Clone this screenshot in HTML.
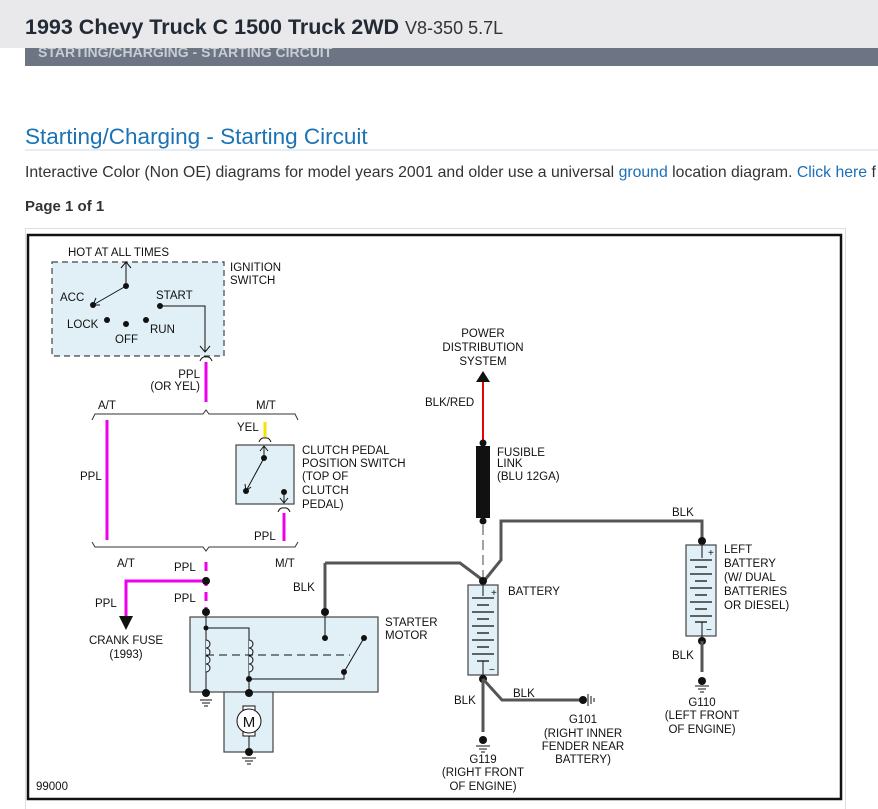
<!DOCTYPE html>
<html><head><meta charset="utf-8"><style>
html,body{margin:0;padding:0;background:#fff;width:878px;height:809px;overflow:hidden;font-family:"Liberation Sans",sans-serif}
svg text{font-family:"Liberation Sans",sans-serif}
</style></head><body>
<svg width="878" height="809" viewBox="0 0 878 809" xmlns="http://www.w3.org/2000/svg">
<rect x="0" y="0" width="878" height="48" fill="#e9e9eb"/>
<rect x="25" y="48" width="853" height="18" fill="#6d7584"/>
<text x="38" y="57" font-size="14" fill="#c8ccd4" font-weight="bold">STARTING/CHARGING - STARTING CIRCUIT</text>
<rect x="0" y="0" width="878" height="48" fill="#e9e9eb"/>
<text x="25" y="34" font-size="21.5" font-weight="bold" fill="#222a35">1993 Chevy Truck C 1500 Truck 2WD <tspan font-weight="normal" font-size="18" fill="#333">V8-350 5.7L</tspan></text>
<text x="25" y="144" font-size="22.5" fill="#1a73b5">Starting/Charging - Starting Circuit</text>
<line x1="25" y1="150" x2="878" y2="150" stroke="#cfdbe6" stroke-width="1"/>
<text x="25" y="177" font-size="15.8" fill="#333">Interactive Color (Non OE) diagrams for model years 2001 and older use a universal <tspan fill="#1a6fb5">ground</tspan> location diagram. <tspan fill="#1a6fb5">Click here</tspan> f</text>
<text x="25" y="211" font-size="15" font-weight="bold" fill="#333">Page 1 of 1</text>
<rect x="25.5" y="228.5" width="820" height="585" fill="none" stroke="#ddd"/>
<rect x="28" y="235" width="813" height="564" fill="#fff" stroke="#111" stroke-width="2.5"/>

<g font-size="11.5" fill="#111">
<rect x="52" y="262" width="172" height="94" fill="#e0f0f6" stroke="#444" stroke-dasharray="6,4" stroke-width="1.2"/>
<text x="68" y="256">HOT AT ALL TIMES</text>
<text x="230" y="271">IGNITION</text><text x="230" y="284">SWITCH</text>
<line x1="126" y1="286" x2="126" y2="262" stroke="#111"/>
<polyline points="121,268 126,262 131,268" fill="none" stroke="#111"/>
<line x1="126" y1="286" x2="93" y2="305" stroke="#111"/>
<polyline points="96,298 93,305 100,305" fill="none" stroke="#111"/>
<circle cx="126" cy="286" r="3"/><circle cx="93" cy="305" r="3"/>
<circle cx="107" cy="320" r="3"/><circle cx="126" cy="324" r="3"/><circle cx="146" cy="320" r="3"/><circle cx="160" cy="306" r="3"/>
<text x="60" y="301">ACC</text><text x="67" y="328">LOCK</text><text x="115" y="343">OFF</text><text x="150" y="333">RUN</text><text x="156" y="299">START</text>
<polyline points="160,306 205,306 205,352" fill="none" stroke="#111"/>
<polyline points="200,346 205,352 210,346" fill="none" stroke="#111"/>
<path d="M200,361 Q202,356 206,357 Q210,356 212,361" fill="none" stroke="#111"/>
<line x1="206" y1="362" x2="206" y2="402" stroke="#ee00ee" stroke-width="3"/>
<text x="200" y="378" text-anchor="end">PPL</text><text x="200" y="390" text-anchor="end">(OR YEL)</text>
<path d="M92,420 L95,414 L203,414 L206,410 L209,414 L295,414 L298,420" fill="none" stroke="#333"/>
<text x="98" y="409">A/T</text><text x="256" y="409">M/T</text>
<line x1="107" y1="420" x2="107" y2="540" stroke="#ee00ee" stroke-width="3"/>
<text x="80" y="480">PPL</text>
<line x1="265" y1="422" x2="265" y2="437" stroke="#f5e400" stroke-width="3"/>
<text x="237" y="431">YEL</text>
<path d="M259,442 Q261,437 265,438 Q269,437 271,442" fill="none" stroke="#111"/>
<rect x="236" y="445" width="58" height="59" fill="#e0f0f6" stroke="#444" stroke-width="1.2"/>
<line x1="264" y1="458" x2="264" y2="446" stroke="#111"/><polyline points="260,451 264,446 268,451" fill="none" stroke="#111"/>
<line x1="264" y1="458" x2="246" y2="491" stroke="#111"/><polyline points="245,484 246,491 251,487" fill="none" stroke="#111"/>
<circle cx="264" cy="458" r="3"/><circle cx="246" cy="491" r="3"/><circle cx="284" cy="492" r="3"/>
<line x1="284" y1="492" x2="284" y2="503" stroke="#111"/><polyline points="280,498 284,503 288,498" fill="none" stroke="#111"/>
<path d="M278,512 Q280,507 284,508 Q288,507 290,512" fill="none" stroke="#111"/>
<line x1="284" y1="513" x2="284" y2="541" stroke="#ee00ee" stroke-width="3"/>
<text x="254" y="540">PPL</text>
<text x="302" y="454">CLUTCH PEDAL</text><text x="302" y="467">POSITION SWITCH</text><text x="302" y="480">(TOP OF</text><text x="302" y="494">CLUTCH</text><text x="302" y="508">PEDAL)</text>
<path d="M92,542 L95,547 L203,547 L206,551 L209,547 L295,547 L298,542" fill="none" stroke="#333"/>
<text x="117" y="567">A/T</text><text x="275" y="567">M/T</text>
<text x="174" y="571">PPL</text><text x="174" y="602">PPL</text>
<line x1="206" y1="562" x2="206" y2="610" stroke="#ee00ee" stroke-width="3" stroke-dasharray="9,6"/>
<polyline points="206,581 126,581 126,616" fill="none" stroke="#ee00ee" stroke-width="3"/>
<polygon points="119,616 133,616 126,630" fill="#111"/>
<circle cx="206" cy="581" r="4"/>
<text x="95" y="607">PPL</text>
<text x="126" y="644" text-anchor="middle">CRANK FUSE</text><text x="126" y="658" text-anchor="middle">(1993)</text>
<rect x="190" y="617" width="188" height="75" fill="#e0f0f6" stroke="#444" stroke-width="1.2"/>
<rect x="224" y="692" width="49" height="60" fill="#e0f0f6" stroke="#444" stroke-width="1.2"/>
<circle cx="206" cy="612" r="4"/>
<line x1="206" y1="612" x2="206" y2="696" stroke="#111"/>
<polyline points="206,628 249,628 249,692" fill="none" stroke="#111"/>
<path d="M206,640 a4,4 0 0 1 0,8 a4,4 0 0 1 0,8 a4,4 0 0 1 0,8 a4,4 0 0 1 0,8" fill="#e0f0f6" stroke="#111"/>
<path d="M249,640 a4,4 0 0 1 0,8 a4,4 0 0 1 0,8 a4,4 0 0 1 0,8 a4,4 0 0 1 0,8" fill="#e0f0f6" stroke="#111"/>
<line x1="206" y1="655" x2="350" y2="655" stroke="#111" stroke-dasharray="8,5"/>
<circle cx="206" cy="628" r="2.5"/>
<polyline points="249,679 344,679 344,672" fill="none" stroke="#111"/>
<line x1="344" y1="672" x2="364" y2="638" stroke="#111"/>
<circle cx="249" cy="679" r="3"/><circle cx="344" cy="672" r="3"/><circle cx="364" cy="638" r="3"/>
<polyline points="325,563 460,563 484,581" fill="none" stroke="#555" stroke-width="3"/>
<line x1="325" y1="563" x2="325" y2="612" stroke="#555" stroke-width="3"/>
<circle cx="325" cy="612" r="4"/><line x1="325" y1="612" x2="325" y2="638" stroke="#111"/><circle cx="325" cy="638" r="3"/>
<text x="293" y="591">BLK</text>
<text x="385" y="626">STARTER</text><text x="385" y="639">MOTOR</text>
<circle cx="206" cy="693" r="4"/><circle cx="249" cy="693" r="4"/>
<line x1="200" y1="700" x2="212" y2="700" stroke="#111"/><line x1="202" y1="703" x2="210" y2="703" stroke="#111"/><line x1="204" y1="706" x2="208" y2="706" stroke="#111"/>
<rect x="243" y="706" width="12" height="30" fill="#fff" stroke="#111"/>
<circle cx="249" cy="721" r="12" fill="#fff" stroke="#111"/>
<text x="249" y="727" text-anchor="middle" font-size="15">M</text>
<line x1="249" y1="736" x2="249" y2="752" stroke="#111"/>
<circle cx="249" cy="752" r="4"/>
<line x1="242" y1="758" x2="256" y2="758" stroke="#111"/><line x1="245" y1="761" x2="253" y2="761" stroke="#111"/><line x1="247" y1="764" x2="251" y2="764" stroke="#111"/>
<text x="483" y="337" text-anchor="middle">POWER</text><text x="483" y="351" text-anchor="middle">DISTRIBUTION</text><text x="483" y="365" text-anchor="middle">SYSTEM</text>
<polygon points="476,382 490,382 483,371" fill="#111"/>
<line x1="483" y1="382" x2="483" y2="442" stroke="#e00" stroke-width="2"/>
<text x="425" y="406">BLK/RED</text>
<circle cx="483" cy="443" r="3.5"/>
<rect x="476" y="446" width="14" height="72" fill="#111"/>
<circle cx="483" cy="521" r="3.5"/>
<line x1="483" y1="525" x2="483" y2="578" stroke="#444" stroke-dasharray="10,5"/>
<text x="497" y="456">FUSIBLE</text><text x="497" y="467">LINK</text><text x="497" y="480">(BLU 12GA)</text>
<polyline points="484,581 501,560 501,521 702,521 702,541" fill="none" stroke="#555" stroke-width="3"/>
<text x="672" y="516">BLK</text>
<circle cx="483" cy="581" r="4"/>
<rect x="468" y="585" width="30" height="90" fill="#e0f0f6" stroke="#444" stroke-width="1.2"/>
<line x1="483" y1="581" x2="483" y2="596" stroke="#111"/>
<text x="491" y="596" font-size="10">+</text>
<g stroke="#111" stroke-width="1.3">
<line x1="472" y1="598" x2="494" y2="598"/><line x1="477" y1="605" x2="489" y2="605"/><line x1="472" y1="612" x2="494" y2="612"/><line x1="477" y1="619" x2="489" y2="619"/><line x1="472" y1="626" x2="494" y2="626"/><line x1="477" y1="633" x2="489" y2="633"/><line x1="472" y1="640" x2="494" y2="640"/><line x1="477" y1="647" x2="489" y2="647"/><line x1="472" y1="654" x2="494" y2="654"/><line x1="477" y1="661" x2="489" y2="661"/>
</g>
<line x1="483" y1="661" x2="483" y2="679" stroke="#111"/>
<text x="489" y="673" font-size="10">−</text>
<text x="508" y="595">BATTERY</text>
<circle cx="483" cy="679" r="4"/>
<line x1="483" y1="679" x2="483" y2="732" stroke="#555" stroke-width="3"/>
<polyline points="483,679 502,700 580,700" fill="none" stroke="#555" stroke-width="3"/>
<text x="454" y="704">BLK</text><text x="513" y="697">BLK</text>
<circle cx="583" cy="700" r="4"/>
<line x1="588" y1="694" x2="588" y2="706" stroke="#111"/><line x1="591" y1="696" x2="591" y2="704" stroke="#111"/><line x1="594" y1="698" x2="594" y2="702" stroke="#111"/>
<text x="583" y="723" text-anchor="middle">G101</text><text x="583" y="737" text-anchor="middle">(RIGHT INNER</text><text x="583" y="750" text-anchor="middle">FENDER NEAR</text><text x="583" y="763" text-anchor="middle">BATTERY)</text>
<circle cx="483" cy="740" r="4"/>
<line x1="476" y1="746" x2="490" y2="746" stroke="#111"/><line x1="479" y1="749" x2="487" y2="749" stroke="#111"/><line x1="481" y1="752" x2="485" y2="752" stroke="#111"/>
<text x="483" y="763" text-anchor="middle">G119</text><text x="483" y="776" text-anchor="middle">(RIGHT FRONT</text><text x="483" y="790" text-anchor="middle">OF ENGINE)</text>
<circle cx="702" cy="541" r="4"/>
<rect x="686" y="545" width="30" height="91" fill="#e0f0f6" stroke="#444" stroke-width="1.2"/>
<line x1="702" y1="545" x2="702" y2="558" stroke="#111"/>
<text x="708" y="556" font-size="10">+</text>
<g stroke="#111" stroke-width="1.3">
<line x1="690" y1="560" x2="712" y2="560"/><line x1="695" y1="567" x2="707" y2="567"/><line x1="690" y1="574" x2="712" y2="574"/><line x1="695" y1="581" x2="707" y2="581"/><line x1="690" y1="588" x2="712" y2="588"/><line x1="695" y1="595" x2="707" y2="595"/><line x1="690" y1="602" x2="712" y2="602"/><line x1="695" y1="609" x2="707" y2="609"/><line x1="690" y1="616" x2="712" y2="616"/><line x1="695" y1="622" x2="707" y2="622"/>
</g>
<line x1="702" y1="622" x2="702" y2="641" stroke="#111"/>
<text x="706" y="633" font-size="10">−</text>
<circle cx="702" cy="641" r="4"/>
<line x1="702" y1="641" x2="702" y2="672" stroke="#555" stroke-width="3"/>
<text x="672" y="659">BLK</text>
<text x="724" y="553">LEFT</text><text x="724" y="567">BATTERY</text><text x="724" y="581">(W/ DUAL</text><text x="724" y="595">BATTERIES</text><text x="724" y="609">OR DIESEL)</text>
<circle cx="702" cy="681" r="4"/>
<line x1="695" y1="686" x2="709" y2="686" stroke="#111"/><line x1="698" y1="689" x2="706" y2="689" stroke="#111"/><line x1="700" y1="692" x2="704" y2="692" stroke="#111"/>
<text x="702" y="706" text-anchor="middle">G110</text><text x="702" y="719" text-anchor="middle">(LEFT FRONT</text><text x="702" y="733" text-anchor="middle">OF ENGINE)</text>
<text x="36" y="790">99000</text>
</g>
</svg>
</body></html>
